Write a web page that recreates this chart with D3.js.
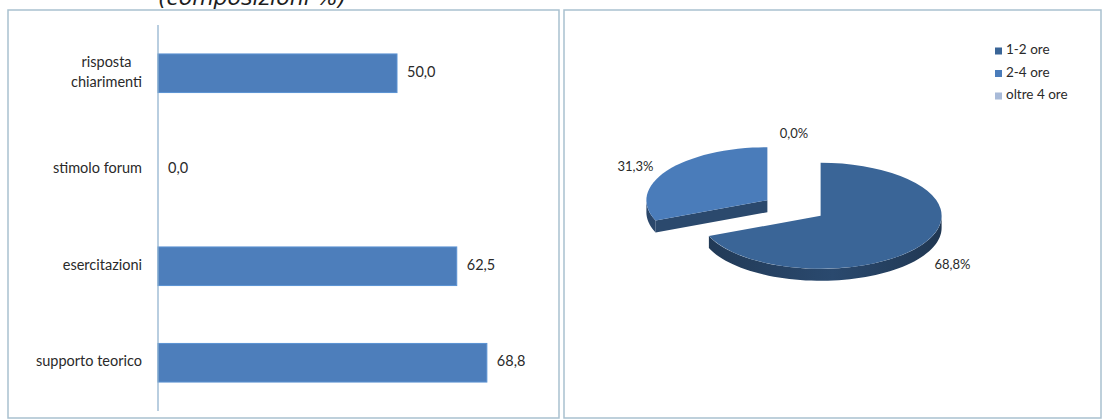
<!DOCTYPE html>
<html>
<head>
<meta charset="utf-8">
<script src="https://cdn.jsdelivr.net/npm/d3@7"></script>
<style>
  html, body { margin: 0; padding: 0; background: #ffffff; }
  svg { display: block; }
  text { font-family: Lato, "Open Sans", sans-serif; fill: #2a2a2a; }
</style>
</head>
<body>
<svg id="chart" width="1106" height="420"></svg>
<script>
// ---- data ----
const title = "(composizioni %)";

// bar chart: uses of the service
const categories = ["risposta chiarimenti", "stimolo forum", "esercitazioni", "supporto teorico"];
const barValues = [50.0, 0.0, 62.5, 68.8];

// pie chart: hours spent
const pieLabels = ["1-2 ore", "2-4 ore", "oltre 4 ore"];
const pieValues = [68.8, 31.3, 0.0];
const pieColors = ["#3a6597", "#4a7cba", "#a8bad8"];

// ---- setup ----
const svg = d3.select("#chart");
const it = d3.formatLocale({decimal: ",", thousands: ".", grouping: [3], currency: ["€", ""]});
const fmt1 = it.format(".1f");

// panel frames
const panels = [
  {x: 8, y: 10, w: 551, h: 408},
  {x: 564, y: 10, w: 537, h: 408}
];
svg.selectAll("rect.panel").data(panels).join("rect")
  .attr("class", "panel")
  .attr("x", d => d.x).attr("y", d => d.y)
  .attr("width", d => d.w).attr("height", d => d.h)
  .attr("fill", "#ffffff")
  .attr("stroke", "#a9c1cf").attr("stroke-width", 1.5);

// title, mostly clipped by the top edge
svg.append("text")
  .attr("x", 158).attr("y", 5)
  .style("font-family", "'DejaVu Sans', Verdana, sans-serif")
  .style("font-style", "italic")
  .style("font-size", "22px")
  .style("fill", "#1e1e1e")
  .text(title);

// ---- horizontal bar chart ----
const x = d3.scaleLinear().domain([0, 80]).range([158, 540.4]);
const y = d3.scaleBand().domain(categories).range([25, 411])
  .paddingInner(0.6).paddingOuter(0.3);

const barG = svg.append("g");

barG.selectAll("rect.bar").data(categories).join("rect")
  .attr("class", "bar")
  .attr("x", x(0))
  .attr("y", d => y(d))
  .attr("width", (d, i) => x(barValues[i]) - x(0))
  .attr("height", y.bandwidth())
  .attr("fill", "#4d7ebb")
  .attr("stroke", "#5b92d2")
  .attr("stroke-width", 1);

// category axis line
barG.append("line")
  .attr("x1", x(0)).attr("x2", x(0))
  .attr("y1", y.range()[0]).attr("y2", y.range()[1])
  .attr("stroke", "#8aaecb").attr("stroke-width", 1.2);

// category labels (long names wrap onto two centred lines)
const labelRight = x(0) - 16;
const wrapWidth = 120;
categories.forEach(cat => {
  const cy = y(cat) + y.bandwidth() / 2;
  const t = barG.append("text")
    .attr("x", labelRight).attr("y", cy)
    .attr("text-anchor", "end")
    .attr("dominant-baseline", "middle")
    .style("font-size", "14.5px")
    .text(cat);
  if (t.node().getComputedTextLength() > wrapWidth) {
    t.remove();
    const words = cat.split(" ");
    const g = barG.append("g");
    const lines = words.map((w, i) => g.append("text")
      .attr("text-anchor", "middle")
      .attr("dominant-baseline", "middle")
      .style("font-size", "14.5px")
      .attr("y", cy + (i - (words.length - 1) / 2) * 20)
      .text(w));
    const maxW = d3.max(lines, l => l.node().getComputedTextLength());
    lines.forEach(l => l.attr("x", labelRight - maxW / 2));
  }
});

// value labels
barG.selectAll("text.val").data(categories).join("text")
  .attr("class", "val")
  .attr("x", (d, i) => x(barValues[i]) + 10)
  .attr("y", d => y(d) + y.bandwidth() / 2)
  .attr("dominant-baseline", "middle")
  .style("font-size", "14.5px")
  .text((d, i) => fmt1(barValues[i]));

// ---- exploded 3D pie ----
const C = {x: 794, y: 208};
const rx = 121, ry = 53, depth = 12, explode = 32;
const k = ry / rx;

const pie = d3.pie().sort(null).value(d => d.v);
const slices = pie(pieValues.map((v, i) => ({v, i})));

// explode each slice along its mid angle
slices.forEach(s => {
  const mid = (s.startAngle + s.endAngle) / 2;
  s.mid = mid;
  s.cx = C.x + explode * Math.sin(mid);
  s.cy = C.y - explode * Math.cos(mid) * k;
});

const pt = (s, a, dz = 0) => [s.cx + rx * Math.sin(a), s.cy - ry * Math.cos(a) + dz];

const shade = (c, f) => d3.color(c).darker(f).formatHex();

const defs = svg.append("defs");
const pieG = svg.append("g");

// back slices first
const order = slices.filter(s => s.value > 0).sort((a, b) => a.cy - b.cy);

order.forEach(s => {
  const col = pieColors[s.data.i];
  const g = pieG.append("g");

  // outer wall, front half only
  const a0 = Math.max(s.startAngle, Math.PI / 2);
  const a1 = Math.min(s.endAngle, 3 * Math.PI / 2);
  if (a1 > a0) {
    const gid = "wall" + s.data.i;
    const lg = defs.append("linearGradient").attr("id", gid)
      .attr("gradientUnits", "userSpaceOnUse")
      .attr("x1", s.cx - rx).attr("x2", s.cx + rx).attr("y1", 0).attr("y2", 0);
    lg.append("stop").attr("offset", "0%").attr("stop-color", shade(col, 1.6));
    lg.append("stop").attr("offset", "55%").attr("stop-color", shade(col, 0.9));
    lg.append("stop").attr("offset", "100%").attr("stop-color", shade(col, 1.7));
    const n = 60;
    const top = d3.range(n + 1).map(j => pt(s, a0 + (a1 - a0) * j / n));
    const bot = d3.range(n + 1).map(j => pt(s, a1 - (a1 - a0) * j / n, depth));
    g.append("path")
      .attr("d", d3.line()(top.concat(bot)) + "Z")
      .attr("fill", `url(#${gid})`);
  }

  // radial cut faces that face the viewer
  const face = a => {
    const p = pt(s, a);
    const poly = [[s.cx, s.cy], p, [p[0], p[1] + depth], [s.cx, s.cy + depth]];
    g.append("path").attr("d", d3.line()(poly) + "Z").attr("fill", shade(col, 1.5));
  };
  if (Math.sin(s.startAngle) < -1e-6) face(s.startAngle);
  if (Math.sin(s.endAngle) > 1e-6) face(s.endAngle);

  // top surface
  g.append("path")
    .attr("d", d3.arc().innerRadius(0).outerRadius(rx)(s))
    .attr("transform", `translate(${s.cx},${s.cy}) scale(1,${k})`)
    .attr("fill", col);
});

// percentage labels
slices.forEach(s => {
  const c = Math.cos(s.mid);
  const lx = s.cx + 1.31 * rx * Math.sin(s.mid);
  const ly = s.cy - 1.12 * ry * c + (c < 0 ? depth + 5 : 0);
  pieG.append("text")
    .attr("x", lx).attr("y", ly)
    .attr("text-anchor", "middle")
    .attr("dominant-baseline", "middle")
    .style("font-size", "13px")
    .text(fmt1(s.value) + "%");
});

// legend
const leg = svg.append("g").attr("transform", "translate(995,51)");
const row = leg.selectAll("g").data(pieLabels).join("g")
  .attr("transform", (d, i) => `translate(0,${i * 22.5})`);
row.append("rect")
  .attr("x", 0).attr("y", -3.5).attr("width", 7).attr("height", 7)
  .attr("fill", (d, i) => pieColors[i]);
row.append("text")
  .attr("x", 11).attr("y", 0)
  .attr("dominant-baseline", "middle")
  .style("font-size", "13.5px")
  .text(d => d);
</script>
</body>
</html>
